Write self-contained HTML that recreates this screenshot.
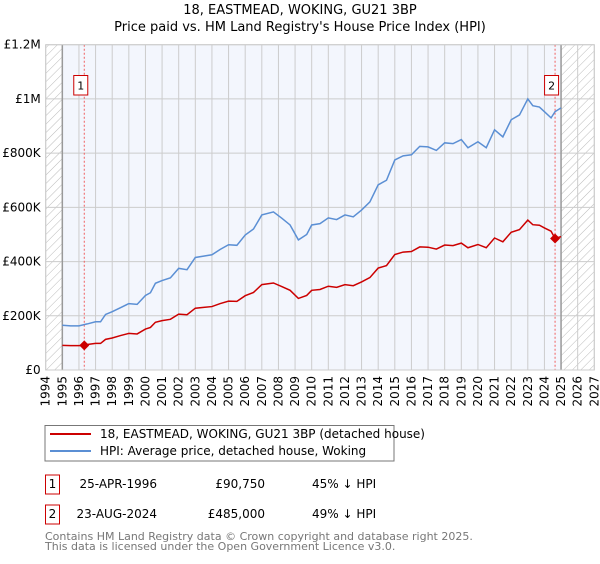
<!DOCTYPE html>
<html><head><meta charset="utf-8"><style>
body{margin:0;background:#fff;font-family:"DejaVu Sans","Liberation Sans",sans-serif;}
svg text{font-family:"DejaVu Sans","Liberation Sans",sans-serif;}
</style></head><body>
<svg id="c" width="600" height="560" xmlns="http://www.w3.org/2000/svg">
<defs><pattern id="h" width="6" height="6" patternUnits="userSpaceOnUse" patternTransform="rotate(45)"><line x1="0" y1="0" x2="0" y2="6" stroke="#bbb" stroke-width="1"/></pattern></defs>
<text x="300" y="14" text-anchor="middle" font-size="13">18, EASTMEAD, WOKING, GU21 3BP</text>
<text x="300" y="31" text-anchor="middle" font-size="13">Price paid vs. HM Land Registry's House Price Index (HPI)</text>
<g id="plot"></g>
<rect x="45" y="425.5" width="349" height="35.5" fill="#fff" stroke="#777"/>
<line x1="50" y1="434" x2="91" y2="434" stroke="#cc0000" stroke-width="2"/>
<text x="100" y="438" font-size="12">18, EASTMEAD, WOKING, GU21 3BP (detached house)</text>
<line x1="50" y1="451" x2="91" y2="451" stroke="#5b8fd4" stroke-width="2"/>
<text x="100" y="455" font-size="12">HPI: Average price, detached house, Woking</text>
<g font-size="12">
<rect x="45.5" y="475" width="14" height="19" fill="#fff" stroke="#cc0000"/>
<text x="52.5" y="488" text-anchor="middle">1</text>
<text x="157" y="488" text-anchor="end">25-APR-1996</text>
<text x="265" y="488" text-anchor="end">£90,750</text>
<text x="312" y="488">45% ↓ HPI</text>
<rect x="45.5" y="505" width="14" height="19" fill="#fff" stroke="#cc0000"/>
<text x="52.5" y="518" text-anchor="middle">2</text>
<text x="157" y="518" text-anchor="end">23-AUG-2024</text>
<text x="265" y="518" text-anchor="end">£485,000</text>
<text x="312" y="518">49% ↓ HPI</text>
</g>
<text x="45" y="540" font-size="11" fill="#777">Contains HM Land Registry data © Crown copyright and database right 2025.</text>
<text x="45" y="550" font-size="11" fill="#777">This data is licensed under the Open Government Licence v3.0.</text>
</svg>
<script>
const hpiYears=[1995,1995.5,1996,1996.5,1997,1997.3,1997.6,1998,1998.5,1999,1999.5,2000,2000.3,2000.6,2001,2001.5,2002,2002.5,2003,2003.5,2004,2004.5,2005,2005.5,2006,2006.5,2007,2007.7,2008.2,2008.7,2009.2,2009.7,2010,2010.5,2011,2011.5,2012,2012.5,2013,2013.5,2014,2014.5,2015,2015.5,2016,2016.5,2017,2017.5,2018,2018.5,2019,2019.4,2020,2020.5,2021,2021.5,2022,2022.5,2023,2023.3,2023.7,2024,2024.4,2024.64,2025];
const hpiValues=[165,163,163,170,178,178,205,215,230,245,242,275,285,320,330,340,375,370,415,420,425,445,462,460,498,520,572,583,560,535,480,500,535,540,561,555,572,565,590,620,683,700,775,790,794,825,823,810,838,835,850,820,842,820,886,860,923,941,1000,975,970,953,930,953,967];
const redYears=[1995,1995.5,1996,1996.32,1996.5,1997,1997.3,1997.6,1998,1998.5,1999,1999.5,2000,2000.3,2000.6,2001,2001.5,2002,2002.5,2003,2003.5,2004,2004.5,2005,2005.5,2006,2006.5,2007,2007.7,2008.2,2008.7,2009.2,2009.7,2010,2010.5,2011,2011.5,2012,2012.5,2013,2013.5,2014,2014.5,2015,2015.5,2016,2016.5,2017,2017.5,2018,2018.5,2019,2019.4,2020,2020.5,2021,2021.5,2022,2022.5,2023,2023.3,2023.7,2024,2024.4,2024.64,2025];
const redValues=[91,90,90,90.75,94,98,98,113,118,127,135,133,151,157,176,182,187,206,204,228,231,234,245,254,253,274,286,315,321,308,294,264,275,294,297,309,305,315,311,325,341,376,385,426,435,437,454,453,446,461,459,468,451,463,451,487,473,508,518,553,536,534,524,512,485,492];
const sales=[[1996.32,90750,"1"],[2024.64,485000,"2"]];
const yTicks=[0,200000,400000,600000,800000,1000000,1200000];
const yLabels=["£0","£200K","£400K","£600K","£800K","£1M","£1.2M"];
const xTicks=[];for(let y=1994;y<=2027;y++)xTicks.push(y);
const X0=45.7,X1=594.3,Y0=370,Y1=44.7;
const xs=v=>X0+(v-1994)/33*(X1-X0);
const ys=v=>Y0-(v/1200000)*(Y0-Y1);
const NS="http://www.w3.org/2000/svg";
const g=document.getElementById('plot');
function mk(t,a){const e=document.createElementNS(NS,t);for(const k in a)e.setAttribute(k,a[k]);g.appendChild(e);return e;}
let e;
e=mk('rect',{x:xs(1995),y:Y1,width:xs(2025)-xs(1995),height:Y0-Y1,fill:'#f3f6fd'});


e=mk('rect',{x:X0,y:Y1,width:xs(1995)-X0,height:Y0-Y1,fill:'url(#h)'});


e=mk('rect',{x:xs(2025),y:Y1,width:X1-xs(2025),height:Y0-Y1,fill:'url(#h)'});


xTicks.forEach(t=>{
 e=mk('line',{x1:xs(t),x2:xs(t),y1:Y1,y2:Y0,stroke:'#ccc'});
 
 
 e=mk('text',{transform:`translate(${xs(t)+4},${Y0+6}) rotate(-90)`,'text-anchor':'end','font-size':'12'});
 e.textContent=t;
 
 
});
yTicks.forEach((t,i)=>{
 e=mk('line',{x1:X0,x2:X1,y1:ys(t),y2:ys(t),stroke:'#ccc'});
 
 
 e=mk('text',{x:X0-5,y:ys(t)+4,'text-anchor':'end','font-size':'12'});
 e.textContent=yLabels[i];
 
 
});
[1995,2025].forEach(t=>{
 e=mk('line',{x1:xs(t),x2:xs(t),y1:Y1,y2:Y0,stroke:'#999','stroke-width':1.5});
 
 
});
sales.forEach(s=>{
 e=mk('line',{x1:xs(s[0]),x2:xs(s[0]),y1:Y1,y2:Y0,stroke:'#f06060','stroke-dasharray':'2,2'});
 
 
 e=mk('rect',{x:xs(s[0])-10.5,y:75.5,width:14,height:19.5,fill:'#fff',stroke:'#cc0000'});
 
 
 e=mk('text',{x:xs(s[0])-3.5,y:89.5,'text-anchor':'middle','font-size':'11'});
 e.textContent=s[2];
 
 
});
e=mk('rect',{x:X0,y:Y1,width:X1-X0,height:Y0-Y1,fill:'none',stroke:'#ccc'});


e=mk('polyline',{points:hpiYears.map((y,i)=>xs(y)+','+ys(hpiValues[i]*1000)).join(' '),fill:'none',stroke:'#5b8fd4','stroke-width':1.5});


e=mk('polyline',{points:redYears.map((y,i)=>xs(y)+','+ys(redValues[i]*1000)).join(' '),fill:'none',stroke:'#cc0000','stroke-width':1.5});


sales.forEach(s=>{
 const cx=xs(s[0]),cy=ys(s[1]);
 e=mk('polygon',{points:`${cx},${cy-5} ${cx+5},${cy} ${cx},${cy+5} ${cx-5},${cy}`,fill:'#cc0000'});
 
 
});
</script>
</body></html>
